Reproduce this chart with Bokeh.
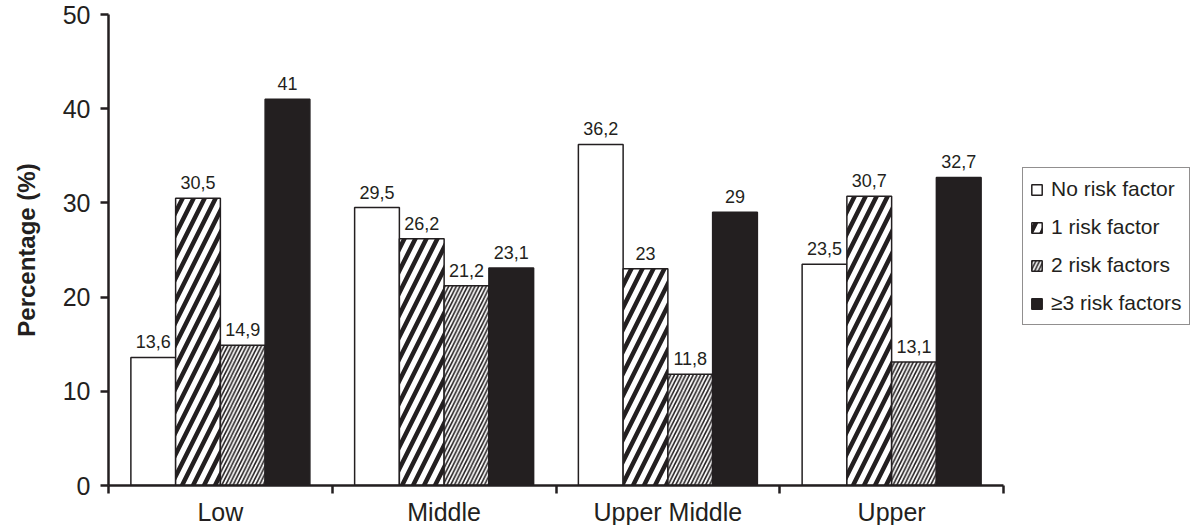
from bokeh.plotting import figure
from bokeh.models import Range1d, FixedTicker, Legend, LegendItem, ColumnDataSource
from bokeh.core.properties import value
from bokeh.embed import file_html
from bokeh.resources import INLINE

# ---- data ----
groups = ["Low", "Middle", "Upper Middle", "Upper"]
series = ["No risk factor", "1 risk factor", "2 risk factors", "\u22653 risk factors"]
no_risk = [13.6, 29.5, 36.2, 23.5]
one_risk = [30.5, 26.2, 23.0, 30.7]
two_risk = [14.9, 21.2, 11.8, 13.1]
three_plus = [41.0, 23.1, 29.0, 32.7]
label_text = [
    ["13,6", "29,5", "36,2", "23,5"],
    ["30,5", "26,2", "23", "30,7"],
    ["14,9", "21,2", "11,8", "13,1"],
    ["41", "23,1", "29", "32,7"],
]
y_ticks = [0, 10, 20, 30, 40, 50]

INK = "#231f20"
FONT = "Liberation Sans"

# frame extends under the legend; the x axis itself stops at the last group
AXIS_PX = 895
FRAME_PX = 1084
x_end = len(groups) * FRAME_PX / AXIS_PX

p = figure(
    frame_width=FRAME_PX, frame_height=471,
    x_range=Range1d(0, x_end), y_range=Range1d(0, 50),
    output_backend="svg", toolbar_location=None,
    min_border_left=108, min_border_right=0,
    min_border_top=14, min_border_bottom=40,
)
p.outline_line_color = None
p.grid.visible = False
p.background_fill_color = "white"
p.border_fill_color = "white"

bar_w = 0.2
offsets = [-0.3, -0.1, 0.1, 0.3]
styles = [
    dict(fill_color="white"),
    dict(fill_color="white", hatch_pattern="/", hatch_color=INK, hatch_scale=22, hatch_weight=4.5),
    dict(fill_color="white", hatch_pattern="/", hatch_color=INK, hatch_scale=7.5, hatch_weight=1.6),
    dict(fill_color=INK),
]
values = [no_risk, one_risk, two_risk, three_plus]

items = []
for i, (vals, st) in enumerate(zip(values, styles)):
    xs = [g + 0.5 + offsets[i] for g in range(len(groups))]
    src = ColumnDataSource(dict(x=xs, top=vals, lab=label_text[i]))
    r = p.vbar(x="x", top="top", width=bar_w, bottom=0, source=src,
               line_color=INK, line_width=1.5, **st)
    p.text(x="x", y="top", text="lab", source=src, text_align="center",
           text_baseline="bottom", y_offset=-9, text_font=value(FONT),
           text_font_size="18px", text_color=INK)
    items.append(LegendItem(label=series[i], renderers=[r]))

# axes
xa = p.xaxis[0]
xa.bounds = (0, len(groups))
xa.ticker = FixedTicker(ticks=[g + 0.5 for g in range(len(groups))],
                        minor_ticks=list(range(len(groups) + 1)))
xa.major_label_overrides = {g + 0.5: name for g, name in enumerate(groups)}
xa.major_tick_out = 0
xa.major_tick_in = 0
xa.minor_tick_out = 8
xa.minor_tick_in = 0
xa.minor_tick_line_width = 2.5
xa.minor_tick_line_color = INK
xa.axis_line_width = 2.5
xa.axis_line_color = INK
xa.major_label_text_font = FONT
xa.major_label_text_font_size = "25px"
xa.major_label_text_color = INK
xa.major_label_standoff = 4

ya = p.yaxis[0]
ya.ticker = FixedTicker(ticks=y_ticks, minor_ticks=[])
ya.major_tick_out = 8
ya.major_tick_in = 0
ya.major_tick_line_width = 2.5
ya.major_tick_line_color = INK
ya.axis_line_width = 2.5
ya.axis_line_color = INK
ya.major_label_text_font = FONT
ya.major_label_text_font_size = "25px"
ya.major_label_text_color = INK
ya.major_label_standoff = 10
ya.axis_label = "Percentage (%)"
ya.axis_label_text_font = FONT
ya.axis_label_text_font_size = "24px"
ya.axis_label_text_font_style = "bold"
ya.axis_label_text_color = INK
ya.axis_label_standoff = 20

legend = Legend(items=items, location=(914, 160))
legend.label_text_font = FONT
legend.label_text_font_size = "21px"
legend.label_text_color = INK
legend.glyph_width = 13
legend.glyph_height = 13
legend.label_height = 28
legend.spacing = 10
legend.padding = 7
legend.label_standoff = 8
legend.border_line_color = INK
legend.border_line_width = 1.5
legend.background_fill_alpha = 1
legend.margin = 0
p.add_layout(legend, "center")

open("out.html", "w").write(file_html(p, INLINE))
